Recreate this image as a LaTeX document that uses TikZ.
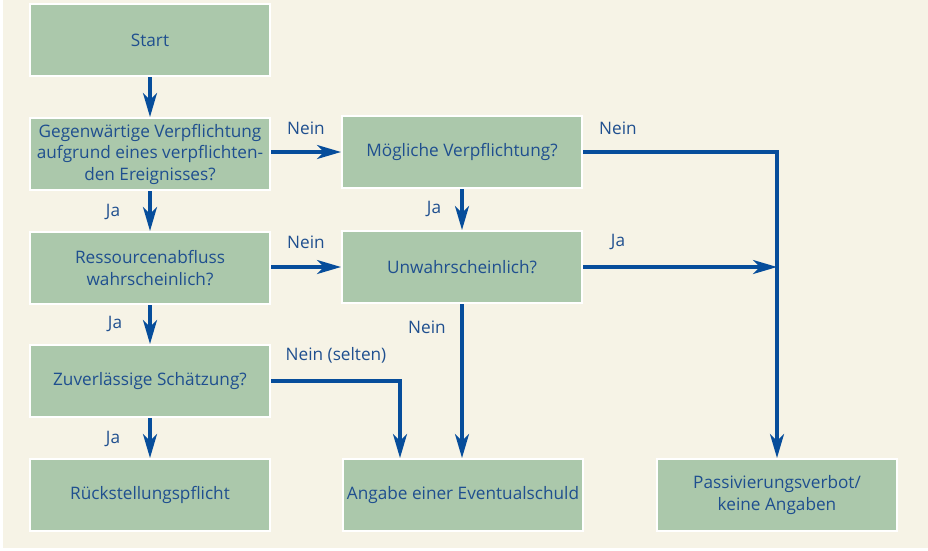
\documentclass[tikz,border=0pt]{standalone}
\usepackage{fontspec}
\setmainfont{Open Sans}
\usetikzlibrary{arrows.meta}
\definecolor{bgcream}{HTML}{F6F3E6}
\definecolor{boxgreen}{HTML}{ABC8AB}
\definecolor{flowblue}{HTML}{064D9B}
\definecolor{textblue}{HTML}{1F4F8F}
\tikzset{
  stepbox/.style={draw=white, line width=2pt, fill=boxgreen,
    minimum width=240pt, minimum height=72pt, inner sep=0pt,
    align=center, text=textblue, font=\fontsize{17.2}{21.5}\selectfont},
  flow/.style={draw=flowblue, line width=3.2pt,
    -{Stealth[length=24pt,width=14pt,inset=7pt]}},
  lbl/.style={text=textblue, inner sep=0pt, font=\fontsize{17.2}{20}\selectfont}
}
\begin{document}
\begin{tikzpicture}[x=1pt,y=-1pt]
  \useasboundingbox (0,0) rectangle (928,550);
  \fill[bgcream] (3,0) rectangle (928,548);

  % left column
  \node[stepbox] (start)     at (150,40)  {Start};
  \node[stepbox] (present)   at (150,154) {Gegenwärtige Verpflichtung\\aufgrund eines verpflichten-\\den Ereignisses?};
  \node[stepbox] (outflow)   at (150,268) {Ressourcenabfluss\\wahrscheinlich?};
  \node[stepbox] (estimate)  at (150,381) {Zuverlässige Schätzung?};
  \node[stepbox] (provision) at (150,495) {Rückstellungspflicht};

  % middle and right
  \node[stepbox] (possible)   at (462,152) {Mögliche Verpflichtung?};
  \node[stepbox] (unlikely)   at (462,267) {Unwahrscheinlich?};
  \node[stepbox] (contingent) at (463,495) {Angabe einer Eventualschuld};
  \node[stepbox] (prohibit)   at (777,495) {Passivierungsverbot/\\keine Angaben};

  \draw[flow] (start) -- (present);
  \draw[flow] (present) -- (outflow);
  \draw[flow] (outflow) -- (estimate);
  \draw[flow] (estimate) -- (provision);
  \draw[flow] (present.east |- possible.east) -- (possible.west);
  \draw[flow] (outflow.east |- unlikely.east) -- (unlikely.west);
  \draw[flow] (possible) -- (unlikely);
  \draw[flow] (unlikely.south) -- (unlikely.south |- contingent.north);
  \draw[flow] (estimate.east) -| ([xshift=-63pt]contingent.north);
  \draw[flow] (possible.east) -| (prohibit.north);
  \draw[flow] (unlikely.east) -- (unlikely.east -| prohibit.north);

  \node[lbl] (no1) at (306,128) {Nein};
  \node[lbl] (no2) at (618,128) {Nein};
  \node[lbl] (no3) at (306,242) {Nein};
  \node[lbl] (no4) at (427,327) {Nein};
  \node[lbl] (no5) at (336,355) {Nein (selten)};
  \node[lbl] (yes1) at (113,212) {Ja};
  \node[lbl] (yes2) at (434,209) {Ja};
  \node[lbl] (yes3) at (618,242) {Ja};
  \node[lbl] (yes4) at (115,324) {Ja};
  \node[lbl] (yes5) at (113,439) {Ja};
\end{tikzpicture}
\end{document}
